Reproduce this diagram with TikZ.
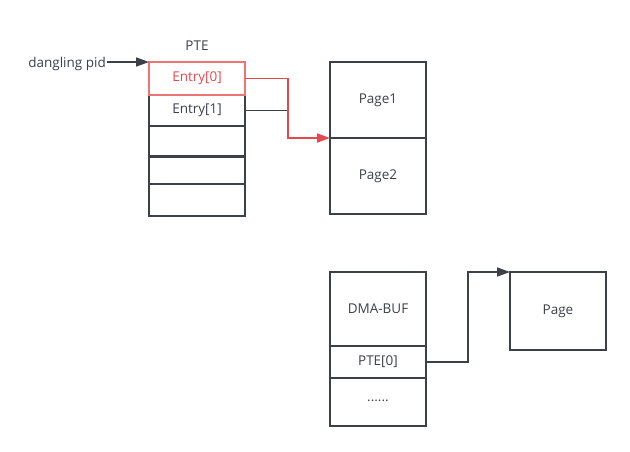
\documentclass[tikz,border=0pt]{standalone}
\usepackage{fontspec}
\setmainfont{Open Sans}
\usetikzlibrary{arrows.meta}
\definecolor{dk}{HTML}{3C4047}
\definecolor{rd}{HTML}{E5484D}
\definecolor{rdbox}{HTML}{EE7373}
\begin{document}
\begin{tikzpicture}[x=1pt,y=-1pt,
  cell/.style={draw=dk,line width=1.8pt,outer sep=0pt,minimum width=96pt,inner sep=0pt,anchor=north west,font=\fontsize{13.5}{15}\selectfont,text=dk},
  lbl/.style={font=\fontsize{13.5}{15}\selectfont,text=dk,inner sep=1pt},
  conn/.style={draw=dk,line width=1.6pt},
  tip/.style={-{Triangle[length=13pt,width=9pt]}}]
\useasboundingbox (0,0) rectangle (630,451);
% PTE table
\node[lbl] (ptelbl) at (197,46) {PTE};
\node[cell,minimum height=31pt] (e1) at (149,95) {Entry[1]};
\node[cell,minimum height=31pt] (r2) at (149,126) {};
\node[cell,minimum height=28pt] (r3) at (149,156) {};
\node[cell,minimum height=32pt] (r4) at (149,184) {};
\node[cell,minimum height=33pt,draw=rdbox,text=rd] (e0) at (149,62) {Entry[0]};
\node[lbl,anchor=east] (dp) at (107,64) {dangling pid};
\draw[conn,tip] (dp.east |- e0.north west) -- (e0.north west);
% Pages
\node[cell,minimum height=76pt] (p1) at (330,62) {Page1};
\node[cell,minimum height=76pt] (p2) at (330,138) {Page2};
\path (e1.east) ++(43,0) coordinate (j);
\draw[conn] (e1.east) -- (j);
\draw[draw=rd,line width=1.8pt,tip] (e0.east) -| (j) |- (p2.north west);
% DMA-BUF
\node[cell,minimum height=74pt] (dma) at (330,272) {DMA-BUF};
\node[cell,minimum height=32pt] (pte0) at (330,346) {PTE[0]};
\node[cell,minimum height=48pt] (dots) at (330,378) {\raisebox{3pt}{......}};
\node[cell,minimum height=78pt] (pg) at (510,272) {Page};
\path (pte0.east) ++(42,0) coordinate (k);
\draw[conn,tip] (pte0.east) -- (k) |- (pg.north west);
\end{tikzpicture}
\end{document}
